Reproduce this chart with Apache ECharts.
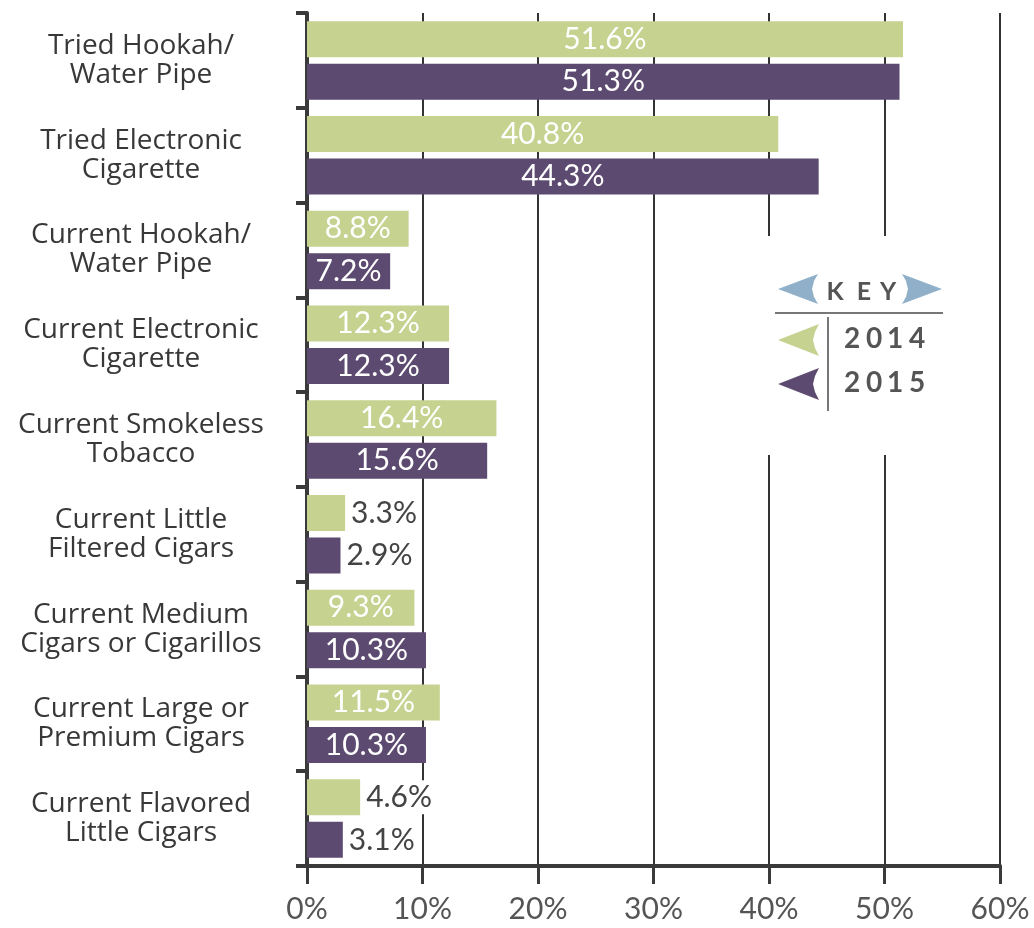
<!DOCTYPE html>
<html><head><meta charset="utf-8">
<script src="https://cdn.jsdelivr.net/npm/echarts@6/dist/echarts.min.js"></script>
<style>html,body{margin:0;padding:0;background:#fff}#c{width:1034px;height:928px}</style>
</head><body><div id="c"></div>
<script>
const categories = [
  "Tried Hookah/\nWater Pipe",
  "Tried Electronic\nCigarette",
  "Current Hookah/\nWater Pipe",
  "Current Electronic\nCigarette",
  "Current Smokeless\nTobacco",
  "Current Little\nFiltered Cigars",
  "Current Medium\nCigars or Cigarillos",
  "Current Large or\nPremium Cigars",
  "Current Flavored\nLittle Cigars"
];
const values2014 = [51.6, 40.8, 8.8, 12.3, 16.4, 3.3, 9.3, 11.5, 4.6];
const values2015 = [51.3, 44.3, 7.2, 12.3, 15.6, 2.9, 10.3, 10.3, 3.1];
const xTicks = [0, 10, 20, 30, 40, 50, 60];
const seriesNames = ["2014", "2015"];

const FONT = "Lato, 'DejaVu Sans', sans-serif";
const CATFONT = "'Open Sans', 'DejaVu Sans', sans-serif";
const GREEN = "#c5d290", PURPLE = "#5c4a70", TXT = "#444", AX = "#3a3a3a";

function makeData(vals) {
  return vals.map(v => {
    const small = v < 5;
    return {
      value: v,
      label: small
        ? { position: "right", distance: 4, color: TXT, backgroundColor: "#fff", padding: [2, 2] }
        : { position: "inside", color: "#fff" }
    };
  });
}

function spacedText(str, centers, cy, size, color) {
  return str.split("").map((ch, i) => ({
    type: "text", z: 20, x: centers[i], y: cy,
    style: { text: ch, align: "center", verticalAlign: "middle",
      font: "bold " + size + "px " + FONT, fill: color }
  }));
}

const chart = echarts.init(document.getElementById("c"));
const graphics = [
  { type: "rect", z: 10, shape: { x: 760, y: 236, width: 190, height: 219 }, style: { fill: "#fff" } },
  { type: "polygon", z: 20, shape: { points: [[778,289],[818,274],[814,281],[812,289],[814,297],[818,304]] }, style: { fill: "#8fb0c8" } },
  { type: "polygon", z: 20, shape: { points: [[942,289],[902,274],[906,281],[908,289],[906,297],[902,304]] }, style: { fill: "#8fb0c8" } },
  { type: "line", z: 20, shape: { x1: 775, y1: 313, x2: 943, y2: 313 }, style: { stroke: "#777", lineWidth: 2 } },
  { type: "line", z: 20, shape: { x1: 828, y1: 317, x2: 828, y2: 411 }, style: { stroke: "#777", lineWidth: 2 } },
  { type: "polygon", z: 20, shape: { points: [[778,340],[819,324],[815,332],[813,340],[815,348],[819,356]] }, style: { fill: GREEN } },
  { type: "polygon", z: 20, shape: { points: [[778,384],[819,368],[815,376],[813,384],[815,392],[819,400]] }, style: { fill: PURPLE } }
].concat(
  spacedText("KEY", [835, 864, 888], 292, 25, "#555"),
  spacedText(seriesNames[0], [852, 874, 895, 917], 339, 28, "#555"),
  spacedText(seriesNames[1], [852, 874, 895, 917], 383, 28, "#555")
);

chart.setOption({
  animation: false,
  backgroundColor: "#fff",
  grid: { left: 307, right: 34, top: 13, bottom: 62 },
  xAxis: {
    type: "value", min: xTicks[0], max: xTicks[xTicks.length - 1], interval: 10,
    axisLine: { show: true, lineStyle: { color: AX, width: 4 } },
    axisTick: { show: true, length: 18, lineStyle: { color: AX, width: 3 } },
    splitLine: { show: true, lineStyle: { color: "#333", width: 2 } },
    axisLabel: { formatter: "{value}%", color: "#555", fontSize: 30, fontFamily: FONT, margin: 28 }
  },
  yAxis: {
    type: "category", data: categories, inverse: true,
    axisLine: { show: true, lineStyle: { color: AX, width: 4 } },
    axisTick: { show: true, length: 11, lineStyle: { color: AX, width: 4 } },
    axisLabel: { color: "#383838", fontSize: 28, fontWeight: 500, fontFamily: CATFONT, align: "center", margin: 166, lineHeight: 29 }
  },
  series: [
    { name: seriesNames[0], type: "bar", data: makeData(values2014), barWidth: 36, barGap: "18%",
      itemStyle: { color: GREEN },
      label: { show: true, formatter: "{c}%", fontSize: 30, fontFamily: FONT } },
    { name: seriesNames[1], type: "bar", data: makeData(values2015), barWidth: 36, barGap: "18%",
      itemStyle: { color: PURPLE },
      label: { show: true, formatter: "{c}%", fontSize: 30, fontFamily: FONT } }
  ],
  graphic: graphics
});
</script></body></html>
